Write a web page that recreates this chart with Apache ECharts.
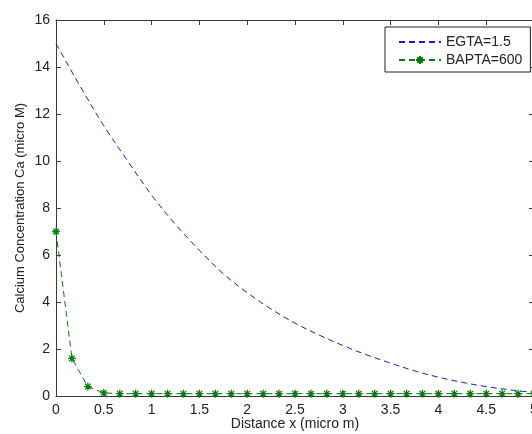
<!DOCTYPE html>
<html>
<head>
<meta charset="utf-8">
<script src="https://cdn.jsdelivr.net/npm/echarts@6/dist/echarts.min.js"></script>
<style>
  html, body { margin: 0; padding: 0; background: #fff; overflow: hidden; }
  /* the axes box runs a few pixels past the right edge of the window */
  #chart { width: 540px; height: 434px; }
</style>
</head>
<body>
<div id="chart"></div>
<script>
// Calcium profile along the distance from the channel mouth
const egtaX = [0, 0.25, 0.5, 0.75, 1.0, 1.25, 1.5, 1.75, 2.0, 2.25, 2.5,
               2.75, 3.0, 3.25, 3.5, 3.75, 4.0, 4.25, 4.5, 4.75, 5.0];
const egtaY = [15.0, 13.2, 11.5, 10.0, 8.55, 7.3, 6.2, 5.2, 4.4, 3.7, 3.1,
               2.6, 2.15, 1.75, 1.4, 1.07, 0.8, 0.58, 0.4, 0.26, 0.15];

const baptaX = [0, 0.167, 0.333, 0.5, 0.667, 0.833, 1.0, 1.167, 1.333, 1.5,
                1.667, 1.833, 2.0, 2.167, 2.333, 2.5, 2.667, 2.833, 3.0, 3.167,
                3.333, 3.5, 3.667, 3.833, 4.0, 4.167, 4.333, 4.5, 4.667, 4.833, 5.0];
const baptaY = [7.0, 1.6, 0.4, 0.13, 0.1, 0.1, 0.1, 0.1, 0.1, 0.1,
                0.1, 0.1, 0.1, 0.1, 0.1, 0.1, 0.1, 0.1, 0.1, 0.1,
                0.1, 0.1, 0.1, 0.1, 0.1, 0.1, 0.1, 0.1, 0.1, 0.1, 0.1];

const seriesNames = ['EGTA=1.5', 'BAPTA=600'];
const xTitle = 'Distance x (micro m)';
const yTitle = 'Calcium Concentration Ca (micro M)';

const FONT = '"Liberation Sans", Arial, sans-serif';
const AXIS_COLOR = '#3a3a3a';
const TEXT_COLOR = '#222';
const ASTERISK = 'path://M0,-10L0,10M-10,0L10,0M-7,-7L7,7M-7,7L7,-7';

const zip = (xs, ys) => xs.map((x, i) => [x, ys[i]]);

const boxAxis = {
  axisLine: { show: true, onZero: false, lineStyle: { color: AXIS_COLOR, width: 1 } },
  axisTick: { show: true, inside: true, length: 5, lineStyle: { color: AXIS_COLOR } },
  splitLine: { show: false }
};

const chart = echarts.init(document.getElementById('chart'), null, { renderer: 'canvas' });
chart.setOption({
  animation: false,
  backgroundColor: '#fff',
  textStyle: { fontFamily: FONT },
  grid: { left: 56, top: 20, right: 6, bottom: 38, containLabel: false, outerBoundsMode: 'none' },
  xAxis: [
    Object.assign({
      type: 'value', min: 0, max: 5, interval: 0.5, position: 'bottom',
      name: xTitle, nameLocation: 'middle', nameGap: 21, nameMoveOverlap: false,
      nameTextStyle: { fontFamily: FONT, fontSize: 14, color: TEXT_COLOR, verticalAlign: 'top' },
      axisLabel: { fontFamily: FONT, fontSize: 14, color: TEXT_COLOR, margin: 7 }
    }, boxAxis),
    Object.assign({
      type: 'value', min: 0, max: 5, interval: 0.5, position: 'top',
      axisLabel: { show: false }
    }, boxAxis)
  ],
  yAxis: [
    Object.assign({
      type: 'value', min: 0, max: 16, interval: 2, position: 'left',
      name: yTitle, nameLocation: 'middle', nameGap: 29, nameMoveOverlap: false,
      nameTextStyle: { fontFamily: FONT, fontSize: 13, color: TEXT_COLOR },
      axisLabel: { fontFamily: FONT, fontSize: 14, color: TEXT_COLOR, margin: 6 }
    }, boxAxis),
    Object.assign({
      type: 'value', min: 0, max: 16, interval: 2, position: 'right',
      axisLabel: { show: false }
    }, boxAxis)
  ],
  legend: {
    orient: 'vertical',
    left: 385, top: 27,
    padding: [8, 8, 5, 13],
    itemWidth: 42, itemHeight: 10, itemGap: 4,
    backgroundColor: '#fff',
    borderColor: '#222', borderWidth: 1, borderRadius: 0,
    textStyle: { fontFamily: FONT, fontSize: 14, color: TEXT_COLOR },
    data: [
      // the EGTA curve is a plain dashed line: hide the marker in its key
      { name: seriesNames[0], itemStyle: { opacity: 0 } },
      { name: seriesNames[1] }
    ]
  },
  series: [
    {
      name: seriesNames[0],
      type: 'line',
      data: zip(egtaX, egtaY),
      smooth: 0.35,
      symbol: 'none',
      color: '#1c1cc8',
      lineStyle: { color: '#1c1cc8', width: 1, type: [6, 4] }
    },
    {
      name: seriesNames[1],
      type: 'line',
      data: zip(baptaX, baptaY),
      symbol: ASTERISK,
      symbolSize: 8,
      showAllSymbol: true,
      color: '#0a7a0a',
      itemStyle: { color: '#0a7a0a', borderColor: '#0a7a0a', borderWidth: 1.3 },
      lineStyle: { color: '#0a7a0a', width: 1, type: [6, 4] }
    }
  ]
});
</script>
</body>
</html>
